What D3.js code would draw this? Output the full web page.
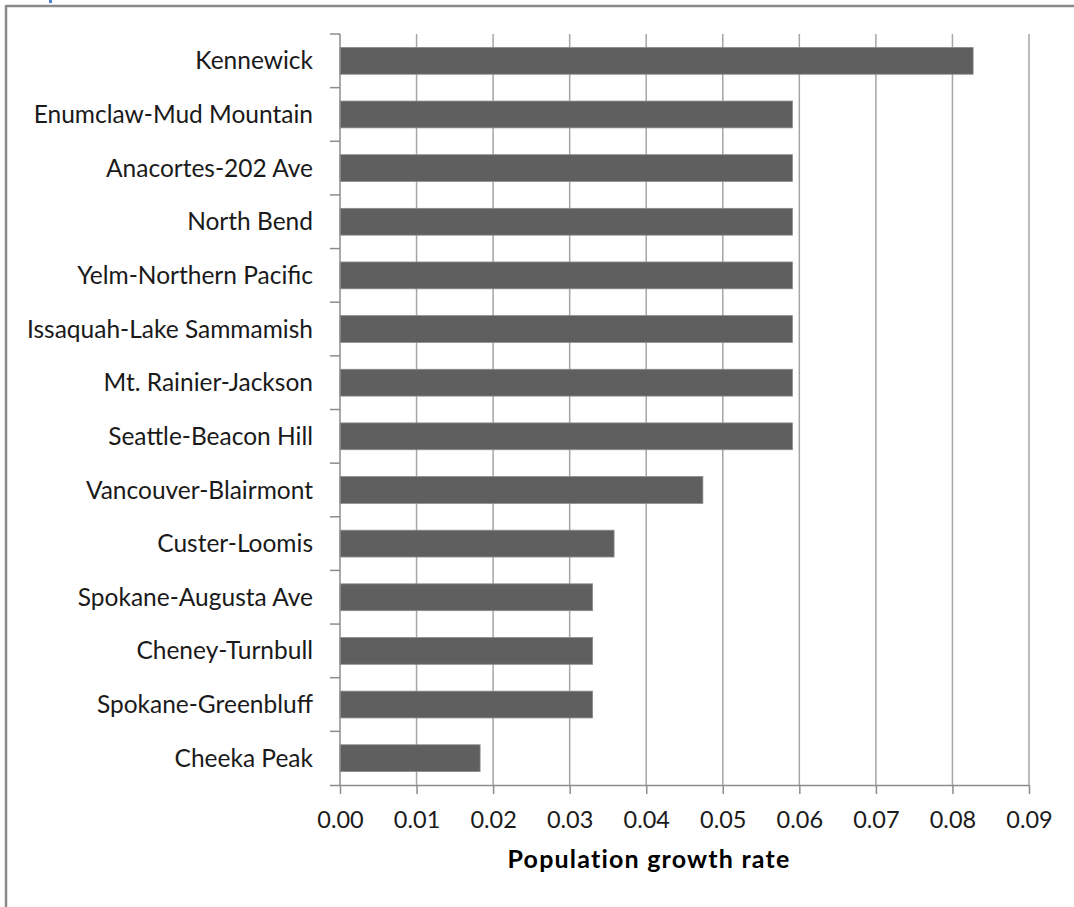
<!DOCTYPE html>
<html>
<head>
<meta charset="utf-8">
<script src="https://cdn.jsdelivr.net/npm/d3@7"></script>
<style>
  html, body { margin: 0; padding: 0; background: #fff; }
  svg { display: block; }
</style>
</head>
<body>
<svg id="chart" width="1074" height="907"></svg>
<script>
// Monitoring sites, top to bottom
const sites = [
  "Kennewick",
  "Enumclaw-Mud Mountain",
  "Anacortes-202 Ave",
  "North Bend",
  "Yelm-Northern Pacific",
  "Issaquah-Lake Sammamish",
  "Mt. Rainier-Jackson",
  "Seattle-Beacon Hill",
  "Vancouver-Blairmont",
  "Custer-Loomis",
  "Spokane-Augusta Ave",
  "Cheney-Turnbull",
  "Spokane-Greenbluff",
  "Cheeka Peak"
];

// Population growth rate per site
const growthRates = [
  0.0827, 0.0591, 0.0591, 0.0591, 0.0591, 0.0591, 0.0591, 0.0591,
  0.0474, 0.0358, 0.0330, 0.0330, 0.0330, 0.0183
];

const xTicks = [0, 0.01, 0.02, 0.03, 0.04, 0.05, 0.06, 0.07, 0.08, 0.09];
const xTitle = "Population growth rate";

const svg = d3.select("#chart");
const font = "Lato, 'Open Sans', sans-serif";
const titleFont = "Lato, 'Open Sans', sans-serif";

const plot = { left: 340, right: 1029, top: 34, bottom: 785 };

const x = d3.scaleLinear().domain([0, 0.09]).range([plot.left, plot.right]);
const y = d3.scaleBand().domain(sites).range([plot.top, plot.bottom])
  .paddingInner(0.5).paddingOuter(0.25);
const step = y.step();

// outer frame (top and left edges)
svg.append("line").attr("x1", 6).attr("x2", 1074).attr("y1", 6).attr("y2", 6)
  .attr("stroke", "#8a8a8a").attr("stroke-width", 2.5);
svg.append("line").attr("x1", 6).attr("x2", 6).attr("y1", 5).attr("y2", 907)
  .attr("stroke", "#8a8a8a").attr("stroke-width", 2.5);
svg.append("rect").attr("x", 49).attr("y", 0).attr("width", 3).attr("height", 3)
  .attr("fill", "#4f81d0");

// vertical gridlines
svg.append("g").selectAll("line").data(xTicks.slice(1)).join("line")
  .attr("x1", d => x(d)).attr("x2", d => x(d))
  .attr("y1", plot.top).attr("y2", plot.bottom)
  .attr("stroke", "#a6a6a6").attr("stroke-width", 1.5);

// bars
svg.append("g").selectAll("rect").data(sites).join("rect")
  .attr("x", x(0))
  .attr("y", d => y(d))
  .attr("width", (d, i) => x(growthRates[i]) - x(0))
  .attr("height", y.bandwidth())
  .attr("fill", "#5f5f5f")
  .attr("stroke", "#8c8c8c").attr("stroke-width", 0.8);

// x axis
const xAxis = svg.append("g").attr("transform", `translate(0,${plot.bottom})`)
  .call(d3.axisBottom(x).tickValues(xTicks).tickFormat(d3.format(".2f"))
    .tickSizeInner(9).tickSizeOuter(0).tickPadding(17));
xAxis.select(".domain").attr("stroke", "#8c8c8c").attr("stroke-width", 1.5)
  .attr("d", `M${plot.left - 10},0.5H${plot.right}`);
xAxis.selectAll(".tick line").attr("stroke", "#8c8c8c").attr("stroke-width", 1.5);
xAxis.selectAll(".tick text").attr("font-family", font).attr("font-size", 23.5)
  .attr("fill", "#1a1a1a");

// y axis with ticks between categories
const yAxis = svg.append("g");
yAxis.append("line").attr("x1", plot.left).attr("x2", plot.left)
  .attr("y1", plot.top).attr("y2", plot.bottom)
  .attr("stroke", "#8c8c8c").attr("stroke-width", 1.5);
const bounds = sites.map(s => y(s) - step * y.paddingInner() / 2);
yAxis.selectAll("line.cat").data(bounds).join("line").attr("class", "cat")
  .attr("x1", plot.left - 10).attr("x2", plot.left)
  .attr("y1", d => d).attr("y2", d => d)
  .attr("stroke", "#8c8c8c").attr("stroke-width", 1.5);
yAxis.selectAll("text").data(sites).join("text")
  .attr("x", plot.left - 27)
  .attr("y", d => y(d) + y.bandwidth() / 2)
  .attr("dy", "0.35em")
  .attr("text-anchor", "end")
  .attr("font-family", font).attr("font-size", 24.5)
  .attr("fill", "#1a1a1a")
  .text(d => d);

// axis title
svg.append("text")
  .attr("x", 649).attr("y", 868)
  .attr("text-anchor", "middle")
  .attr("font-family", titleFont).attr("font-size", 25).attr("font-weight", "bold")
  .attr("letter-spacing", 1.2)
  .attr("fill", "#000")
  .text(xTitle);
</script>
</body>
</html>
